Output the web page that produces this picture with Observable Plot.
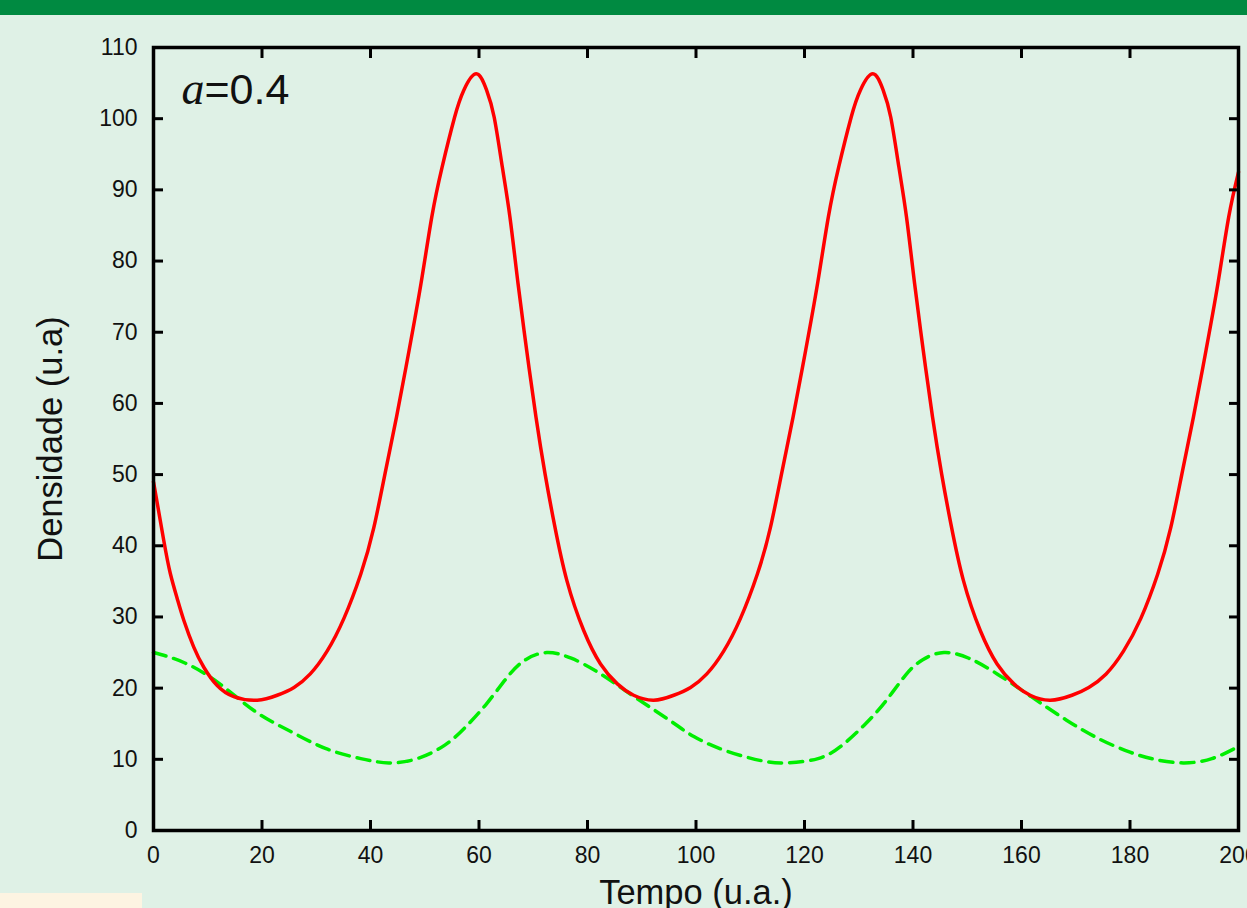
<!DOCTYPE html>
<html><head><meta charset="utf-8">
<script src="https://cdn.jsdelivr.net/npm/d3@7"></script>
<script src="https://cdn.jsdelivr.net/npm/@observablehq/plot@0.6"></script>
<style>
html,body{margin:0;padding:0;overflow:hidden;background:#dff1e6;width:1247px;height:908px;}
#bar{position:absolute;left:0;top:0;width:1247px;height:15px;background:#008a41;z-index:2}
#note{position:absolute;left:0;top:893px;width:142px;height:15px;background:#fdf4e2;z-index:2}
#chart{position:absolute;left:0;top:0;}
</style></head><body>
<div id="bar"></div><div id="chart"></div><div id="note"></div>
<script>
// Red series (solid)
const tRed = [0,1.9,3.1,4.4,5.6,7.4,9.3,11.7,14.8,19.1,22.8,25.9,28.9,32.0,35.1,38.2,40.6,42.8,44.8,47.1,49.3,51.3,53.2,55.5,57.2,59.5,61.4,62.8,64.3,65.7,67.2,68.8,70.5,72.2,73.9,76.2,79.3,82.4,85.5,88.5,92.2,95.9,99.0,102.0,105.1,108.2,111.3,113.7,115.9,117.9,120.2,122.4,124.4,126.3,128.6,130.3,132.6,134.5,135.9,137.4,138.8,140.3,141.9,143.6,145.3,147.0,149.3,152.4,155.5,158.6,161.6,165.3,169.3,172.4,175.6,178.8,182.0,185.1,187.5,189.7,191.7,194.0,196.2,198.2,200];
const vRed = [49.0,40.7,36.1,32.5,29.5,25.8,22.9,20.4,18.8,18.3,19.0,20.1,22.0,25.2,29.8,36.0,42.5,50.6,58.1,67.4,76.8,86.2,93.2,100.2,104.0,106.3,104.0,100.2,93.2,86.2,76.8,67.4,58.1,50.0,43.0,35.1,28.1,23.4,20.6,19.0,18.3,19.0,20.1,22.0,25.2,29.8,36.0,42.5,50.6,58.1,67.4,76.8,86.2,93.2,100.2,104.0,106.3,104.0,100.2,93.2,86.2,76.8,67.4,58.1,50.0,43.0,35.1,28.1,23.4,20.6,19.0,18.3,19.0,20.1,22.0,25.2,29.8,36.0,42.5,50.6,58.1,67.4,76.8,86.2,92.5];
// Green series (dashed)
const tGreen = [0,5.9,12.4,18.8,25.3,31.8,38.2,43.4,48.6,53.7,57.6,61.5,65.4,68.6,72.5,77.0,82.2,88.6,95.1,99.6,105.5,112.1,116.6,122.5,127.0,131.0,134.8,138.6,141.8,145.7,150.3,155.5,161.8,168.3,174.5,180.0,184.5,189.8,195.1,200];
const vGreen = [25.0,23.5,20.5,16.7,13.9,11.5,10.1,9.5,10.1,12.0,14.6,17.9,21.7,24.0,25.0,24.2,22.1,18.8,15.5,13.2,11.2,9.8,9.5,10.1,12.0,14.8,18.0,21.8,24.0,25.0,24.2,22.0,18.8,15.5,12.8,11.0,10.0,9.5,10.1,11.8];
// Ticks and labels
const xTicks = [0,20,40,60,80,100,120,140,160,180,200];
const yTicks = [0,10,20,30,40,50,60,70,80,90,100,110];
const xLabel = ["Tempo (u.a.)"];
const yLabel = ["Densidade (u.a)"];
const annoVar = ["a"];
const annoVal = ["=0.4"];

const red = tRed.map((t, i) => ({t, v: vRed[i]}));
const green = tGreen.map((t, i) => ({t, v: vGreen[i]}));
const sans = "'Liberation Sans', Arial, Helvetica, sans-serif";

const chart = Plot.plot({
  width: 1247, height: 908,
  marginLeft: 153, marginRight: 9, marginTop: 47, marginBottom: 78,
  style: {background: "transparent", fontFamily: sans, color: "#111"},
  x: {domain: [0, 200]},
  y: {domain: [0, 110]},
  marks: [
    Plot.line(green, {x: "t", y: "v", stroke: "#00ee00", strokeWidth: 3.5, strokeDasharray: "13,8", curve: "natural"}),
    Plot.line(red, {x: "t", y: "v", stroke: "#ff0000", strokeWidth: 3.5, curve: "natural"}),
    Plot.axisX({ticks: xTicks, tickSize: 0, tickPadding: 16, fontSize: 23, label: null}),
    Plot.axisY({ticks: yTicks, tickSize: 0, tickPadding: 16, fontSize: 23, label: null}),
    Plot.axisX({ticks: xTicks, anchor: "bottom", tickSize: -10, fill: "none", stroke: "black", strokeWidth: 3, label: null}),
    Plot.axisX({ticks: xTicks, anchor: "top", tickSize: -10, fill: "none", stroke: "black", strokeWidth: 3, label: null}),
    Plot.axisY({ticks: yTicks, anchor: "left", tickSize: -10, fill: "none", stroke: "black", strokeWidth: 3, label: null}),
    Plot.axisY({ticks: yTicks, anchor: "right", tickSize: -10, fill: "none", stroke: "black", strokeWidth: 3, label: null}),
    Plot.frame({stroke: "black", strokeWidth: 3.5}),
    Plot.text(xLabel, {text: d => d, frameAnchor: "bottom", dy: 73, textAnchor: "middle", lineAnchor: "bottom", fontSize: 34.5, fill: "#111"}),
    Plot.text(yLabel, {text: d => d, frameAnchor: "left", dx: -116, rotate: -90, textAnchor: "middle", lineAnchor: "top", fontSize: 34.5, fill: "#111"}),
    Plot.text(annoVar, {text: d => d, frameAnchor: "top-left", dx: 28, dy: 56, textAnchor: "start", lineAnchor: "bottom", fontSize: 46, fontStyle: "italic", fontFamily: "'Liberation Serif', 'Times New Roman', serif", fill: "#111"}),
    Plot.text(annoVal, {text: d => d, frameAnchor: "top-left", dx: 51, dy: 56, textAnchor: "start", lineAnchor: "bottom", fontSize: 43, fill: "#111"})
  ]
});
document.getElementById("chart").appendChild(chart);
</script>
</body></html>
